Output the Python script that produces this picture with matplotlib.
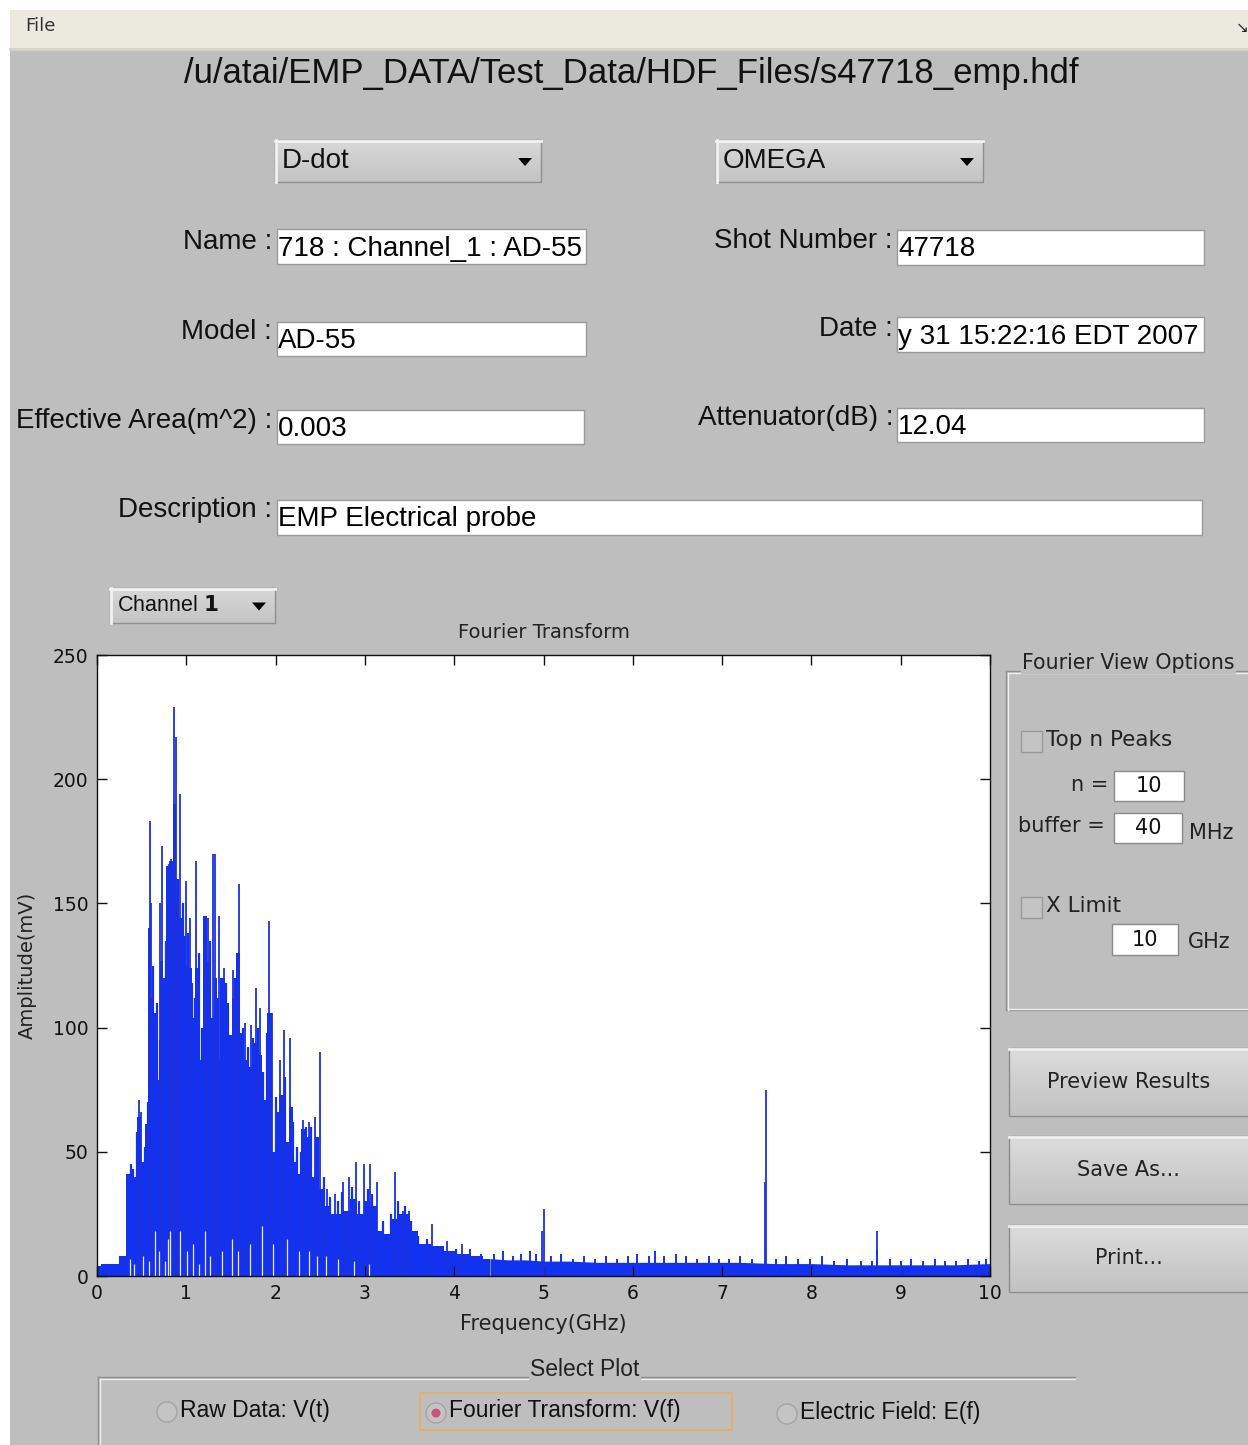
import matplotlib
matplotlib.use("Agg")
import numpy as np
import matplotlib.pyplot as plt
from matplotlib.patches import Rectangle, Circle, Polygon

W, H = 1248, 1445

# Fourier spectrum (GHz, mV)
# outline of the solid blue body
body_freq = [0.0, 0.1, 0.2, 0.30, 0.35, 0.43, 0.47, 0.52, 0.56, 0.59, 0.62, 0.65,
             0.69, 0.72, 0.75, 0.79, 0.83, 0.87, 0.90, 0.94, 0.98, 1.01, 1.04,
             1.08, 1.12, 1.16, 1.21, 1.25, 1.29, 1.33, 1.36, 1.40, 1.46, 1.49,
             1.53, 1.59, 1.62, 1.66, 1.72, 1.77, 1.83, 1.87, 1.94, 1.98, 2.01,
             2.07, 2.13, 2.16, 2.22, 2.26, 2.31, 2.37, 2.43, 2.46, 2.52, 2.57,
             2.65, 2.72, 2.80, 2.87, 2.95, 3.02, 3.10, 3.17, 3.25, 3.32, 3.40,
             3.47, 3.54, 3.66, 3.81, 3.96, 4.10, 4.25, 4.40]
body_amp = [4, 5, 5, 8, 41, 40, 64, 46, 61, 140, 112, 106,
            79, 127, 120, 165, 167, 190, 160, 144, 137, 125, 124,
            104, 124, 87, 145, 127, 104, 120, 87, 120, 97, 97,
            112, 130, 87, 87, 84, 94, 89, 71, 106, 50, 59,
            73, 54, 68, 46, 41, 59, 56, 40, 56, 35, 28,
            25, 25, 26, 31, 25, 30, 28, 18, 17, 23, 25,
            25, 18, 13, 12, 10, 9, 8, 7]

# noise floor above 4.4 GHz
floor_freq = [4.40, 4.60, 4.80, 5.0, 5.3, 5.6, 6.0, 6.4, 6.8, 7.2, 7.6, 8.0,
              8.4, 8.8, 9.2, 9.6, 10.0]
floor_amp = [7, 6.5, 6.5, 6, 6, 5.5, 5.5, 5.5, 5.5, 5.5, 5, 5,
             4.5, 4.5, 4.5, 4.5, 5]

# single lines that stick out above the body
spike_freq = [0.47, 0.49, 0.59, 0.61, 0.71, 0.73, 0.81, 0.83, 0.86, 0.88, 0.91,
              0.93, 1.00, 1.04, 1.11, 1.22, 1.24, 1.30, 1.32, 1.37, 1.42, 1.52,
              1.56, 1.59, 1.66, 1.73, 1.78, 1.83, 1.93, 1.96, 2.05, 2.09, 2.16,
              2.31, 2.37, 2.44, 2.50, 2.57, 2.67, 2.76, 2.82, 2.90, 2.99, 3.06,
              3.13, 3.34, 3.43, 3.49, 3.75, 3.92, 4.09, 4.98, 5.00, 7.48, 7.49,
              8.73, 8.74]
spike_amp = [71, 66, 183, 150, 150, 173, 166, 168, 229, 217, 160,
             194, 159, 144, 167, 145, 144, 170, 170, 145, 124, 123,
             116, 158, 102, 101, 116, 108, 143, 106, 87, 99, 96,
             63, 62, 64, 90, 35, 33, 38, 40, 46, 45, 45,
             38, 42, 26, 26, 21, 14, 13, 18, 27, 38, 75,
             11, 18]

# shorter lines along the top edge of the body
mid_freq = [0.38, 0.40, 0.45, 0.54, 0.57, 0.63, 0.67, 0.70, 0.77, 0.85, 0.96,
            1.02, 1.06, 1.10, 1.14, 1.18, 1.27, 1.35, 1.39, 1.44, 1.47, 1.55,
            1.61, 1.64, 1.69, 1.75, 1.80, 1.86, 1.90, 2.00, 2.03, 2.11, 2.19,
            2.24, 2.28, 2.34, 2.40, 2.48, 2.54, 2.61, 2.70, 2.74, 2.85, 2.93,
            3.04, 3.08, 3.20, 3.29, 3.37, 3.45, 3.52, 3.60, 3.70, 3.86, 4.02]
mid_amp = [45, 43, 58, 52, 70, 125, 110, 95, 135, 158, 150,
           138, 118, 112, 130, 100, 135, 112, 105, 118, 110, 120,
           98, 100, 92, 96, 100, 82, 98, 72, 66, 80, 62,
           52, 50, 60, 60, 50, 40, 32, 30, 34, 36, 30,
           35, 33, 22, 25, 30, 28, 22, 16, 15, 12, 11]

# small bumps on the noise floor
bump_freq = [4.18, 4.30, 4.45, 4.55, 4.66, 4.75, 4.85, 4.92, 5.08, 5.20, 5.33,
             5.45, 5.58, 5.70, 5.82, 5.95, 6.05, 6.18, 6.25, 6.35, 6.48, 6.60,
             6.72, 6.85, 6.97, 7.08, 7.20, 7.33, 7.60, 7.72, 7.85, 7.98, 8.12,
             8.25, 8.40, 8.55, 8.68, 8.88, 9.00, 9.12, 9.25, 9.38, 9.50, 9.62,
             9.75, 9.88, 9.96]
bump_amp = [11, 9, 9, 10, 8, 9, 10, 9, 8, 9, 7,
            8, 7, 8, 7, 8, 9, 8, 10, 8, 9, 8,
            7, 8, 7, 7, 8, 7, 7, 8, 7, 7, 8,
            6, 7, 6, 6, 7, 6, 7, 6, 7, 6, 6,
            7, 6, 7]

# light gaps at the foot of the body
gap_freq = [0.37, 0.41, 0.52, 0.58, 0.65, 0.69, 0.76, 0.79, 0.82, 0.93, 1.01,
            1.08, 1.14, 1.21, 1.27, 1.40, 1.51, 1.58, 1.71, 1.85, 1.97, 2.13,
            2.26, 2.37, 2.46, 2.56, 2.70, 2.88, 3.05]
gap_amp = [7, 5, 8, 6, 18, 10, 6, 15, 18, 18, 10,
           13, 5, 18, 8, 10, 15, 10, 13, 20, 13, 15,
           10, 10, 8, 8, 7, 6, 5]

xticks = list(range(0, 11))
yticks = [0, 50, 100, 150, 200, 250]

GRAY = "#bebebe"
BLUE = "#1232f0"
UI_FONT = ["Liberation Sans", "DejaVu Sans"]
PANEL_FONT = ["DejaVu Sans"]


def field(ax, x0, y0, x1, y1, text, size=20):
    ax.add_patch(Rectangle((x0, y0), x1 - x0, y1 - y0, fc="white",
                           ec="#9a9a9a", lw=1))
    ax.text(x0 + 1, (y0 + y1) / 2 + 2, text, fontsize=size, family=UI_FONT,
            va="center", ha="left", color="black")


def label(ax, x, y, text, size=20):
    ax.text(x, y, text, fontsize=size, family=UI_FONT, va="center", ha="right",
            color="#111111")


def gradient(ax, x0, y0, x1, y1, top, bottom):
    # vertical shading, drawn as an image stretched over the box
    g = np.linspace(0, 1, 32)[:, None, None]
    c0 = np.array(matplotlib.colors.to_rgb(top))
    c1 = np.array(matplotlib.colors.to_rgb(bottom))
    img = c0 * (1 - g) + c1 * g
    ax.imshow(img, extent=(x0, x1, y1, y0), aspect="auto", zorder=1,
              interpolation="bilinear")


def popup(ax, x0, y0, x1, y1, text, size=20):
    gradient(ax, x0, y0, x1, y1, "#d8d8d8", "#c4c4c4")
    ax.add_patch(Rectangle((x0, y0), x1 - x0, y1 - y0, fc="none",
                           ec="#8f8f8f", lw=1, zorder=2))
    ax.plot([x0, x1], [y0 + 1, y0 + 1], color="#f2f2f2", lw=2, zorder=2)
    ax.plot([x0 + 1, x0 + 1], [y0, y1], color="#f2f2f2", lw=2, zorder=2)
    ax.text(x0 + 7, (y0 + y1) / 2, text, fontsize=size, family=UI_FONT,
            va="center", ha="left", color="#111111", zorder=3)
    ax_ = x1 - 16
    ym = (y0 + y1) / 2
    ax.add_patch(Polygon([(ax_ - 7, ym - 3), (ax_ + 7, ym - 3), (ax_, ym + 5)],
                         closed=True, fc="black", ec="none", zorder=3))


def button(ax, x0, y0, x1, y1, text):
    gradient(ax, x0, y0, x1, y1, "#dcdcdc", "#c2c2c2")
    ax.add_patch(Rectangle((x0, y0), x1 - x0, y1 - y0, fc="none",
                           ec="#8c8c8c", lw=1, zorder=2))
    ax.plot([x0, x1], [y0 + 1, y0 + 1], color="#efefef", lw=2, zorder=2)
    ax.text((x0 + x1) / 2 - 2, (y0 + y1) / 2, text, fontsize=15,
            family=PANEL_FONT, va="center", ha="center", color="#222222",
            zorder=3)


def etched(ax, x0, y0, x1, y1):
    for dx, c in ((0, "#8e8e8e"), (1.5, "#f0f0f0")):
        ax.plot([x0 + dx, x1], [y0 + dx, y0 + dx], color=c, lw=1)
        ax.plot([x0 + dx, x0 + dx], [y1, y0 + dx], color=c, lw=1)
        ax.plot([x0 + dx, x1], [y1 - dx, y1 - dx], color=c, lw=1)


fig = plt.figure(figsize=(W / 100, H / 100), dpi=100)
fig.patch.set_facecolor("white")
ui = fig.add_axes([0, 0, 1, 1], zorder=0)
ui.set_xlim(0, W)
ui.set_ylim(H, 0)
ui.axis("off")

# window background and menu bar
ui.add_patch(Rectangle((10, 10), W - 10, 39, fc="#ece9df", ec="none"))
ui.plot([10, W], [48.5, 48.5], color="#d6d3ca", lw=2)
ui.add_patch(Rectangle((10, 50), W - 10, H - 50, fc=GRAY, ec="none"))
ui.text(25, 26, "File", fontsize=13, family=PANEL_FONT, va="center",
        color="#333333")
ui.text(1242, 28, "\u2198", fontsize=11, family=PANEL_FONT, va="center",
        ha="center", color="#222222")

ui.text(631, 73, "/u/atai/EMP_DATA/Test_Data/HDF_Files/s47718_emp.hdf",
        fontsize=25, family=UI_FONT, va="center", ha="center", color="#111111")

popup(ui, 275, 140, 541, 182, "D-dot")
popup(ui, 716, 140, 983, 182, "OMEGA")

label(ui, 272, 242, "Name :")
field(ui, 277, 229, 586, 264, "718 : Channel_1 : AD-55")
label(ui, 272, 332, "Model :")
field(ui, 277, 322, 586, 356, "AD-55")
label(ui, 272, 421, "Effective Area(m^2) :")
field(ui, 277, 410, 584, 444, "0.003")
label(ui, 272, 510, "Description :")
field(ui, 277, 500, 1202, 535, "EMP Electrical probe")

label(ui, 893, 241, "Shot Number :")
field(ui, 897, 230, 1204, 265, "47718")
label(ui, 893, 329, "Date :")
field(ui, 897, 317, 1204, 352, "y 31 15:22:16 EDT 2007")
label(ui, 893, 418, "Attenuator(dB) :")
field(ui, 897, 408, 1204, 442, "12.04")

popup(ui, 110, 588, 275, 623, "Channel $\\mathbf{1}$", size=15.5)

# Fourier View Options panel
etched(ui, 1006, 671, 1252, 1010)
ui.text(1022, 663, "Fourier View Options", fontsize=14.8, family=PANEL_FONT,
        va="center", ha="left", color="#222222",
        bbox=dict(fc=GRAY, ec="none", pad=1))
for cy, txt in ((741, "Top n Peaks"), (907, "X Limit")):
    ui.add_patch(Rectangle((1021, cy - 10), 21, 21, fc="#c4c4c4",
                           ec="#9a9a9a", lw=1))
    ui.text(1046, cy - 1, txt, fontsize=15.5, family=PANEL_FONT, va="center",
            ha="left", color="#222222")
small_boxes = [(1114, 771, 1184, 801, "10"), (1114, 813, 1182, 843, "40"),
               (1112, 924, 1178, 955, "10")]
for x0, y0, x1, y1, txt in small_boxes:
    ui.add_patch(Rectangle((x0, y0), x1 - x0, y1 - y0, fc="white",
                           ec="#8a8a8a", lw=1))
    ui.text((x0 + x1) / 2, (y0 + y1) / 2, txt, fontsize=15, family=PANEL_FONT,
            va="center", ha="center", color="#111111")
ui.text(1108, 785, "n =", fontsize=15, family=PANEL_FONT, va="center",
        ha="right", color="#222222")
ui.text(1105, 826, "buffer =", fontsize=15, family=PANEL_FONT, va="center",
        ha="right", color="#222222")
ui.text(1189, 833, "MHz", fontsize=15, family=PANEL_FONT, va="center",
        ha="left", color="#222222")
ui.text(1188, 942, "GHz", fontsize=15, family=PANEL_FONT, va="center",
        ha="left", color="#222222")

button(ui, 1009, 1048, 1252, 1116, "Preview Results")
button(ui, 1009, 1136, 1252, 1204, "Save As...")
button(ui, 1009, 1225, 1252, 1292, "Print...")

# Select Plot group
etched(ui, 98, 1377, 1075, 1460)
ui.text(585, 1369, "Select Plot", fontsize=16.5, family=UI_FONT, va="center",
        ha="center", color="#222222", bbox=dict(fc=GRAY, ec="none", pad=1))
ui.add_patch(Rectangle((420, 1393), 312, 37, fc="none", ec="#e0b070", lw=1.5))
radios = [(167, 1412, "Raw Data: V(t)", False),
          (436, 1413, "Fourier Transform: V(f)", True),
          (787, 1414, "Electric Field: E(f)", False)]
for cx, cy, txt, on in radios:
    ui.add_patch(Circle((cx, cy), 10, fc="#c4c4c4", ec="#a4a4a4", lw=1))
    if on:
        ui.add_patch(Circle((cx, cy), 4.5, fc="#d0507a", ec="none"))
    ui.text(cx + 13, cy - 2, txt, fontsize=16.5, family=UI_FONT, va="center",
            ha="left", color="#111111")

# the spectrum itself
ax = fig.add_axes([97 / W, 1 - 1276 / H, (990 - 97) / W, (1276 - 655) / H],
                  zorder=2)
ax.set_facecolor("white")
ax.fill_between(body_freq, 0, body_amp, color=BLUE, lw=0, step="mid")
ax.fill_between(floor_freq, 0, floor_amp, color=BLUE, lw=0)
ax.vlines(bump_freq, 0, bump_amp, color=BLUE, lw=1.4)
ax.vlines(mid_freq, 0, mid_amp, color=BLUE, lw=1.6)
ax.vlines(spike_freq, 0, spike_amp, color="#1c30e0", lw=1.3)
ax.vlines(gap_freq, 0, gap_amp, color="#e8eaff", lw=0.9)
ax.set_xlim(0, 10)
ax.set_ylim(0, 250)
ax.set_xticks(xticks)
ax.set_yticks(yticks)
ax.tick_params(direction="in", length=7, width=1, top=True, right=True,
               labelsize=13.5, pad=6, colors="#111111")
for lab in ax.get_xticklabels() + ax.get_yticklabels():
    lab.set_family(PANEL_FONT)
for s in ax.spines.values():
    s.set_color("#111111")
    s.set_linewidth(1)
ax.set_title("Fourier Transform", fontsize=14, family=PANEL_FONT, pad=12,
             color="#222222")
ax.set_xlabel("Frequency(GHz)", fontsize=15, family=PANEL_FONT, labelpad=8,
              color="#222222")
ax.set_ylabel("Amplitude(mV)", fontsize=14, family=PANEL_FONT, labelpad=12,
              color="#222222")

fig.savefig("out.png", dpi=100)
